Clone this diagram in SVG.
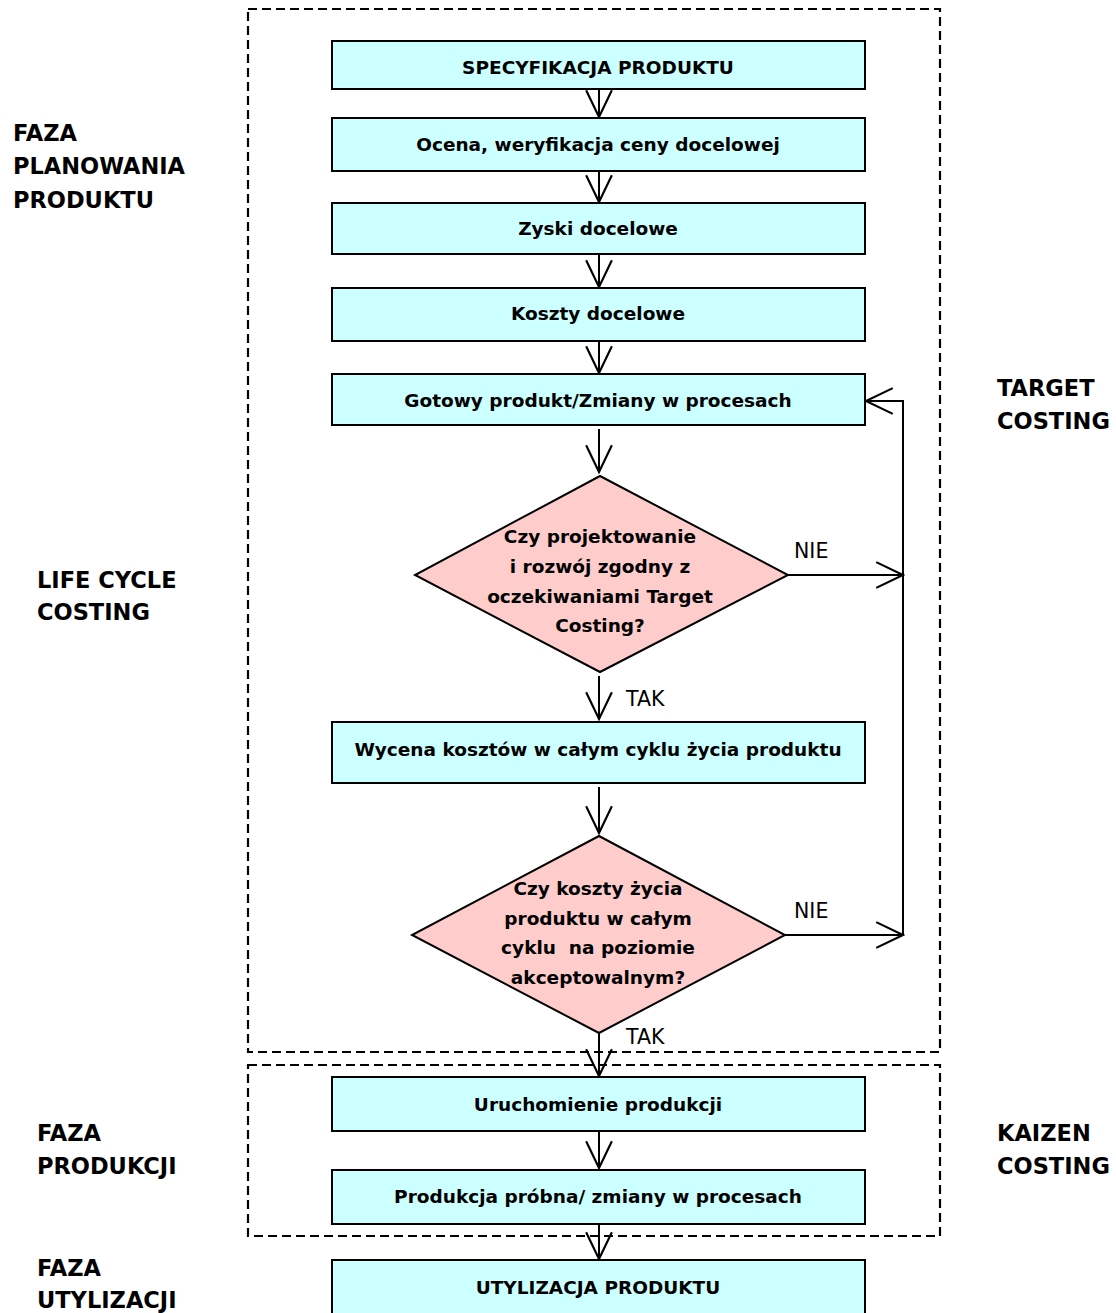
<svg xmlns="http://www.w3.org/2000/svg" width="1116" height="1313" viewBox="0 0 1116 1313">
<defs>
<style>
.box{fill:#CCFFFF;stroke:#000;stroke-width:2}
.dia{fill:#FFCCCC;stroke:#000;stroke-width:2}
.frame{fill:none;stroke:#000;stroke-width:2.2;stroke-dasharray:9 5}
.ln{fill:none;stroke:#000;stroke-width:2}
.t{font-family:"DejaVu Sans",sans-serif;font-weight:bold;font-size:18.5px;text-anchor:middle;fill:#000;white-space:pre}
.side{font-family:"DejaVu Sans",sans-serif;font-weight:bold;font-size:22.5px;fill:#000}
.lbl{font-family:"DejaVu Sans",sans-serif;font-size:20.5px;fill:#000}
</style>
<marker id="v" markerUnits="userSpaceOnUse" markerWidth="30" markerHeight="30" viewBox="-26 -13 28 26" refX="0" refY="0" orient="auto">
<path d="M-25,-12 L0,0 L-25,12" fill="none" stroke="#000" stroke-width="2"/>
</marker>
</defs>
<rect width="1116" height="1313" fill="#fff"/>
<g id="frames">
<rect class="frame" x="248" y="9" width="692" height="1043"/>
<rect class="frame" x="248" y="1065" width="692" height="171"/>
</g>
<g id="side-labels">
<text class="side" x="13" y="141">FAZA</text>
<text class="side" x="13" y="174">PLANOWANIA</text>
<text class="side" x="13" y="208">PRODUKTU</text>
<text class="side" x="37" y="588">LIFE CYCLE</text>
<text class="side" x="37" y="620">COSTING</text>
<text class="side" x="37" y="1141">FAZA</text>
<text class="side" x="37" y="1174">PRODUKCJI</text>
<text class="side" x="37" y="1276">FAZA</text>
<text class="side" x="37" y="1308">UTYLIZACJI</text>
<text class="side" x="997" y="396">TARGET</text>
<text class="side" x="997" y="429">COSTING</text>
<text class="side" x="997" y="1141">KAIZEN</text>
<text class="side" x="997" y="1174">COSTING</text>
</g>
<g id="connectors">
<line class="ln" x1="599" y1="89" x2="599" y2="117" marker-end="url(#v)"/>
<line class="ln" x1="599" y1="171" x2="599" y2="202" marker-end="url(#v)"/>
<line class="ln" x1="599" y1="254" x2="599" y2="287" marker-end="url(#v)"/>
<line class="ln" x1="599" y1="341" x2="599" y2="373" marker-end="url(#v)"/>
<line class="ln" x1="599" y1="429" x2="599" y2="472" marker-end="url(#v)"/>
<line class="ln" x1="599" y1="676" x2="599" y2="719" marker-end="url(#v)"/>
<line class="ln" x1="599" y1="787" x2="599" y2="833" marker-end="url(#v)"/>
<line class="ln" x1="599" y1="1033" x2="599" y2="1076" marker-end="url(#v)"/>
<line class="ln" x1="599" y1="1131" x2="599" y2="1168" marker-end="url(#v)"/>
<line class="ln" x1="599" y1="1224" x2="599" y2="1259" marker-end="url(#v)"/>
<line class="ln" x1="788" y1="575" x2="903" y2="575" marker-end="url(#v)"/>
<line class="ln" x1="785" y1="935" x2="903" y2="935" marker-end="url(#v)"/>
<polyline class="ln" points="903,935 903,401 866,401" marker-end="url(#v)"/>
<text class="lbl" x="794" y="558">NIE</text>
<text class="lbl" x="794" y="918">NIE</text>
<text class="lbl" x="626" y="706">TAK</text>
<text class="lbl" x="626" y="1044">TAK</text>
</g>
<g id="n1"><rect class="box" x="332" y="41" width="533" height="48"/><text class="t" x="598" y="74">SPECYFIKACJA PRODUKTU</text></g>
<g id="n2"><rect class="box" x="332" y="118" width="533" height="53"/><text class="t" x="598" y="151">Ocena, weryfikacja ceny docelowej</text></g>
<g id="n3"><rect class="box" x="332" y="203" width="533" height="51"/><text class="t" x="598" y="235">Zyski docelowe</text></g>
<g id="n4"><rect class="box" x="332" y="288" width="533" height="53"/><text class="t" x="598" y="320">Koszty docelowe</text></g>
<g id="n5"><rect class="box" x="332" y="374" width="533" height="51"/><text class="t" x="598" y="407">Gotowy produkt/Zmiany w procesach</text></g>
<g id="d1"><polygon class="dia" points="600,476 788,575 600,672 415,575"/>
<text class="t" x="600" y="543">Czy projektowanie</text>
<text class="t" x="600" y="573">i rozwój zgodny z</text>
<text class="t" x="600" y="603">oczekiwaniami Target</text>
<text class="t" x="600" y="632">Costing?</text></g>
<g id="n6"><rect class="box" x="332" y="722" width="533" height="61"/><text class="t" x="598" y="756">Wycena kosztów w całym cyklu życia produktu</text></g>
<g id="d2"><polygon class="dia" points="599,836 785,935 599,1033 412,935"/>
<text class="t" x="598" y="895">Czy koszty życia</text>
<text class="t" x="598" y="925">produktu w całym</text>
<text class="t" x="598" y="954">cyklu  na poziomie</text>
<text class="t" x="598" y="984">akceptowalnym?</text></g>
<g id="n7"><rect class="box" x="332" y="1077" width="533" height="54"/><text class="t" x="598" y="1111">Uruchomienie produkcji</text></g>
<g id="n8"><rect class="box" x="332" y="1170" width="533" height="54"/><text class="t" x="598" y="1203">Produkcja próbna/ zmiany w procesach</text></g>
<g id="n9"><rect class="box" x="332" y="1260" width="533" height="60"/><text class="t" x="598" y="1294">UTYLIZACJA PRODUKTU</text></g>
</svg>
